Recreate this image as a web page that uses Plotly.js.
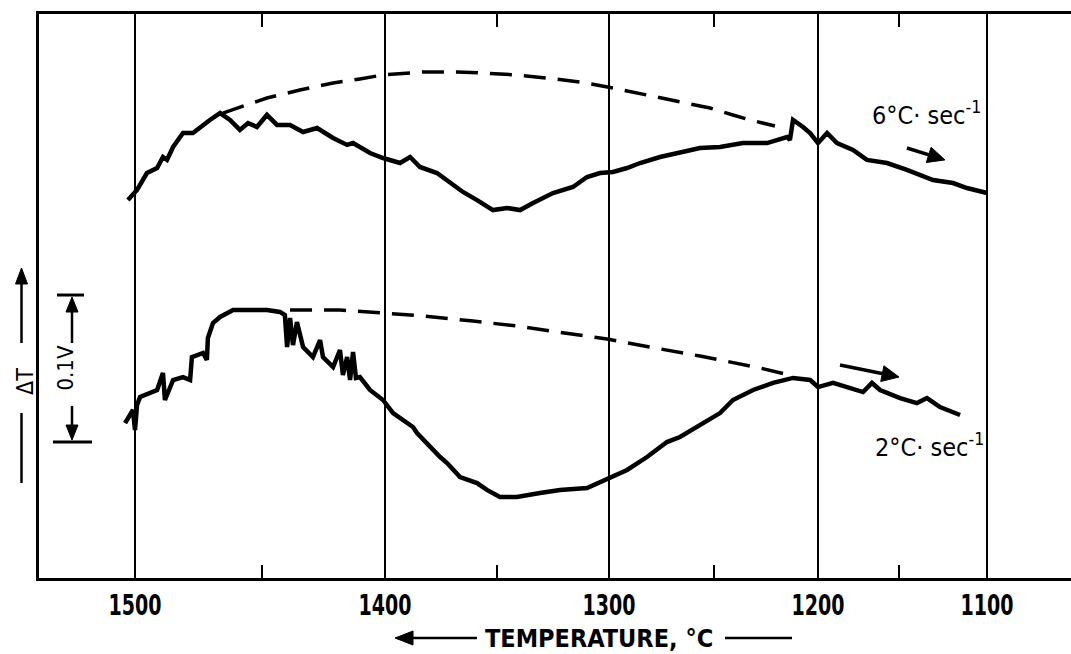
<!DOCTYPE html>
<html><head><meta charset="utf-8">
<script src="https://cdn.plot.ly/plotly-3.0.1.min.js"></script>
<style>html,body{margin:0;padding:0;background:#fff}#chart{width:1071px;height:654px}</style>
</head><body><div id="chart"></div>
<script>
// Recorder chart temperature scale (non-linear): temperature (°C) -> chart position
const scaleTemps = [1500,1450,1400,1350,1300,1250,1200,1150,1100];
const scalePos   = [96,223,346,458,570,675,779,860,948];
const majorTicks = [1500,1400,1300,1200,1100];
const minorTicks = [1450,1350,1250,1150];
const tickLabels = ['1500','1400','1300','1200','1100'];

// 6 °C/sec trace : temperature (°C), ΔT signal (mV)
const temp6 = [1502.8,1499.2,1495.3,1491.3,1489.0,1487.4,1485.0,1481.1,1477.2,1474.4,1470.5,1466.5,1462.6,1458.7,1455.5,1452.0,1448.0,1443.9,1438.6,1433.3,1427.6,1421.1,1415.4,1413.0,1406.1,1400.8,1393.3,1388.8,1384.4,1376.8,1371.0,1365.2,1358.9,1351.8,1345.5,1339.7,1333.9,1325.0,1316.1,1309.8,1304.0,1298.1,1291.4,1285.2,1275.7,1266.2,1256.7,1247.1,1236.1,1224.5,1214.9,1213.5,1212.0,1207.2,1203.8,1200.0,1194.4,1188.3,1178.4,1169.8,1157.4,1145.5,1130.7,1119.3,1111.4,1100.0];
const dT6 = [257.1,264.0,275.5,278.9,286.4,284.4,293.2,302.7,302.7,306.8,311.6,316.3,311.6,304.8,309.5,306.8,315.0,308.2,308.2,303.4,306.1,299.3,294.6,295.9,289.1,285.7,282.3,286.4,279.6,275.5,268.7,262.6,257.1,250.3,251.7,250.3,255.1,261.9,266.0,272.8,275.5,276.2,278.9,282.3,286.4,289.8,292.5,293.2,295.9,295.9,300.0,298.0,311.6,306.8,302.7,295.9,302.7,295.9,291.2,284.4,282.3,277.6,270.7,268.7,265.3,261.9];
// 6 °C/sec extrapolated baseline (dashed)
const base6T = [1465.4,1448.0,1434.6,1421.1,1410.2,1400.8,1383.0,1367.9,1356.3,1341.1,1327.7,1312.9,1298.1,1281.9,1262.9,1251.9,1240.9,1232.7,1220.7];
const base6V = [316.3,326.5,332.0,336.7,339.5,342.2,344.2,344.2,343.5,342.2,340.1,337.4,333.3,328.6,323.1,319.7,315.0,311.6,307.5];

// 2 °C/sec trace
const temp2 = [1503.9,1500.8,1500.0,1499.2,1498.0,1494.1,1491.3,1489.0,1488.2,1485.0,1481.1,1478.3,1477.6,1473.2,1471.7,1471.3,1469.3,1466.5,1461.4,1453.5,1448.0,1442.7,1440.7,1439.8,1438.6,1437.4,1435.8,1433.3,1429.3,1426.4,1425.2,1421.1,1418.3,1417.1,1415.4,1414.2,1413.0,1411.8,1410.2,1406.1,1400.8,1396.4,1387.5,1385.7,1379.9,1375.4,1372.3,1366.5,1358.9,1354.5,1348.7,1341.1,1330.8,1321.9,1309.8,1304.0,1299.5,1291.4,1281.9,1272.4,1266.2,1256.7,1247.1,1240.9,1231.2,1221.6,1212.0,1203.8,1200.0,1190.7,1180.2,1172.2,1166.7,1161.7,1149.4,1139.8,1134.1,1126.7,1115.3];
const dT2 = [105.4,114.3,100.7,117.7,123.1,125.9,127.9,139.5,121.1,134.7,136.7,134.7,150.3,153.1,148.3,163.3,173.5,177.6,182.3,182.3,182.3,181.0,178.9,157.1,176.9,158.5,174.1,157.1,150.3,161.9,150.3,143.5,155.1,138.1,150.3,134.7,153.7,136.1,136.7,127.9,121.1,112.2,102.7,98.6,89.1,82.3,78.2,68.7,64.6,59.9,55.1,55.1,57.8,59.9,61.2,65.3,68.7,73.5,82.3,92.5,95.9,104.1,112.2,121.1,127.9,132.7,136.1,134.7,129.9,132.7,129.3,126.5,132.7,127.9,122.4,119.0,122.4,116.3,110.9];
// 2 °C/sec extrapolated baseline (dashed)
const base2T = [1438.6,1418.3,1400.8,1383.0,1360.7,1341.1,1323.2,1300.9,1280.5,1256.7,1227.9,1212.0];
const base2V = [182.3,182.3,180.3,178.2,174.8,171.4,167.3,162.6,157.1,151.0,142.9,137.4];

const rateLabels = ['6°C· sec<sup>-1</sup>', '2°C· sec<sup>-1</sup>'];
const axisTitle = 'TEMPERATURE, °C';
const yLabel = 'ΔT';
const scaleBarText = '0.1V';
const scaleBarValue = 100; // mV = 0.1 V
const scaleBarLow = 92.5;

// map temperature onto the chart's (non-linear) scale, piecewise linear
function pos(t){
  const n = scaleTemps.length;
  let i = 0;
  while (i < n-2 && t < scaleTemps[i+1]) i++;
  const t0 = scaleTemps[i], t1 = scaleTemps[i+1], p0 = scalePos[i], p1 = scalePos[i+1];
  return p0 + (t - t0) * (p1 - p0) / (t1 - t0);
}

const FONT = "'Liberation Sans Narrow','Arial Narrow','DejaVu Sans Condensed',sans-serif";
const PL = 39, PT = 14, PW = 1032, PH = 564, MV_PER_PX = 1/1.47;
const fx = px => (px - PL) / PW;
const fy = py => (PT + PH - py) / PH;
const dataPx = (t, v) => [PL + pos(t), PT + PH - v / MV_PER_PX];

// arrow drawn as a stroke plus a filled head (paper coordinates)
function arrow(x1, y1, x2, y2, width, L, H){
  const dx = x2 - x1, dy = y2 - y1, len = Math.hypot(dx, dy);
  const ux = dx/len, uy = dy/len, nx = -uy, ny = ux;
  const bx = x2 - ux*L, by = y2 - uy*L;
  const p = (x, y) => fx(x) + ',' + fy(y);
  return [
    {type:'line', xref:'paper', yref:'paper', x0:fx(x1), y0:fy(y1), x1:fx(bx + ux*2), y1:fy(by + uy*2),
     line:{color:'#000', width:width}},
    {type:'path', xref:'paper', yref:'paper',
     path:'M' + p(x2, y2) + ' L' + p(bx + nx*H, by + ny*H) + ' L' + p(bx - nx*H, by - ny*H) + ' Z',
     fillcolor:'#000', line:{color:'#000', width:1}}
  ];
}

const solid = {color:'#000', width:4.5};
const dashed = {color:'#000', width:3.5, dash:'22px,12px'};

const traces = [
  {x: temp6.map(pos), y: dT6, mode:'lines', line: solid, hoverinfo:'skip'},
  {x: base6T.map(pos), y: base6V, mode:'lines', line: dashed, hoverinfo:'skip'},
  {x: temp2.map(pos), y: dT2, mode:'lines', line: solid, hoverinfo:'skip'},
  {x: base2T.map(pos), y: base2V, mode:'lines', line: dashed, hoverinfo:'skip'}
];

const ann = (o) => Object.assign({showarrow:false, xanchor:'center', yanchor:'middle'}, o);
const annotations = [
  ann({x: pos(1134.1), y: 316.3, xref:'x', yref:'y', text: rateLabels[0], font:{family:FONT, size:25, color:'#000'}}),
  ann({x: pos(1132.4), y: 89.8, xref:'x', yref:'y', text: rateLabels[1], font:{family:FONT, size:25, color:'#000'}}),
  ann({x: fx(25), y: fy(382), xref:'paper', yref:'paper', text: yLabel, textangle:-90, font:{family:FONT, size:23, color:'#000'}}),
  ann({x: fx(66), y: scaleBarLow + scaleBarValue/2, xref:'paper', yref:'y', text: scaleBarText, textangle:-90,
       font:{family:FONT, size:22, color:'#000'}}),
  ann({x: fx(599), y: fy(638), xref:'paper', yref:'paper', text: axisTitle, font:{family:FONT, size:25, color:'#000', weight:'bold'}})
];

const a6h = dataPx(1123.9, 284.4), a6t = dataPx(1145.5, 292.5);
const a2h = dataPx(1150.0, 136.7), a2t = dataPx(1186.4, 144.9);
const barTop = PT + PH - (scaleBarLow + scaleBarValue) / MV_PER_PX;
const barBot = PT + PH - scaleBarLow / MV_PER_PX;

// minor (50 °C) ticks, inside, on bottom and top edges
const minorTickShapes = [];
minorTicks.forEach(t => {
  minorTickShapes.push({type:'line', xref:'x', yref:'paper', x0:pos(t), x1:pos(t), y0:0, y1:13/PH, line:{color:'#000', width:2}});
  minorTickShapes.push({type:'line', xref:'x', yref:'paper', x0:pos(t), x1:pos(t), y0:1, y1:1-13/PH, line:{color:'#000', width:2}});
});

const shapes = [].concat(
  minorTickShapes,
  arrow(a6t[0], a6t[1], a6h[0], a6h[1], 3.5, 17, 8),
  arrow(a2t[0], a2t[1], a2h[0], a2h[1], 3.5, 17, 8),
  arrow(21.5, 343, 21.5, 268, 2.5, 16, 6),
  arrow(72, 343, 72, barTop + 2, 2.5, 15, 6),
  arrow(72, 406, 72, barBot - 2, 2.5, 15, 6),
  arrow(477, 638, 395, 638, 2.5, 18, 7),
  [
    {type:'line', xref:'paper', yref:'paper', x0:fx(21.5), x1:fx(21.5), y0:fy(483), y1:fy(413), line:{color:'#000', width:2.5}},
    {type:'line', xref:'paper', yref:'y', x0:fx(57), x1:fx(84), y0:scaleBarLow+scaleBarValue, y1:scaleBarLow+scaleBarValue, line:{color:'#000', width:3}},
    {type:'line', xref:'paper', yref:'y', x0:fx(53), x1:fx(92), y0:scaleBarLow, y1:scaleBarLow, line:{color:'#000', width:3}},
    {type:'line', xref:'paper', yref:'paper', x0:fx(725), x1:fx(792), y0:fy(638), y1:fy(638), line:{color:'#000', width:2.5}},
    {type:'rect', xref:'x', yref:'y', x0:pos(1100)-4, x1:pos(1100)+4, y0:295.9, y1:335.4, fillcolor:'#fff', line:{width:0}, layer:'below'},
    {type:'rect', xref:'x', yref:'y', x0:pos(1100)-4, x1:pos(1100)+4, y0:64.6, y1:91.8, fillcolor:'#fff', line:{width:0}, layer:'below'}
  ]
);

const layout = {
  width:1071, height:654,
  margin:{l:PL, r:0, t:PT, b:654-PT-PH, pad:0},
  paper_bgcolor:'#fff', plot_bgcolor:'#fff',
  showlegend:false,
  xaxis:{
    range:[0, PW], tickmode:'array', tickvals: majorTicks.map(pos), ticktext: tickLabels,
    showgrid:true, gridcolor:'#000', gridwidth:2, zeroline:false,
    showline:true, linecolor:'#000', linewidth:3, mirror:true, ticks:'',
    ticklabelstandoff:0,
    tickfont:{family:FONT, size:28, color:'#000', weight:'bold'},
    fixedrange:true
  },
  yaxis:{
    range:[0, PH*MV_PER_PX], showgrid:false, zeroline:false, showticklabels:false, ticks:'',
    showline:true, linecolor:'#000', linewidth:3, fixedrange:true
  },
  annotations, shapes
};

Plotly.newPlot('chart', traces, layout, {staticPlot:true, displayModeBar:false}).then(() => {
  // the original lettering is a condensed face: narrow the tick numerals
  document.querySelectorAll('#chart .xtick text').forEach(t => {
    t.setAttribute('textLength', '53');
    t.setAttribute('lengthAdjust', 'spacingAndGlyphs');
  });
});
</script>
</body></html>
